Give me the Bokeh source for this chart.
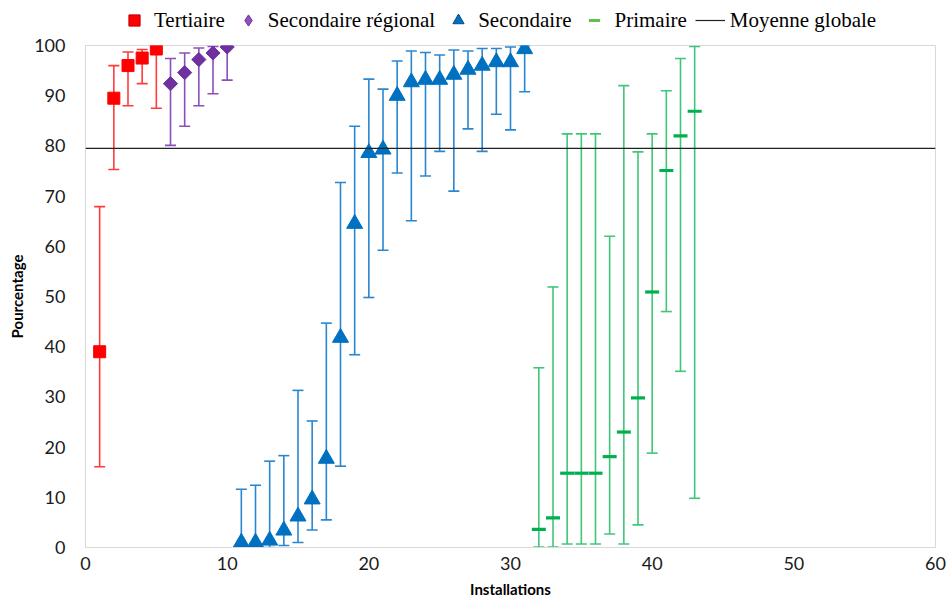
from bokeh.plotting import figure
from bokeh.layouts import column
from bokeh.models import (ColumnDataSource, Whisker, TeeHead, Span, Legend,
                          LegendItem, FixedTicker, Range1d)
from bokeh.embed import file_html
from bokeh.resources import INLINE

# Installation groups: mean percentage with lower / upper bounds
tert_x = [1, 2, 3, 4, 5]
tert_y = [39.0, 89.5, 96.0, 97.5, 99.3]
tert_lo = [16.1, 75.3, 88.0, 92.4, 87.5]
tert_hi = [67.9, 96.0, 98.7, 99.2, 100.0]

reg_x = [6, 7, 8, 9, 10]
reg_y = [92.4, 94.6, 97.2, 98.5, 99.7]
reg_lo = [80.1, 83.9, 88.0, 90.4, 93.1]
reg_hi = [97.4, 98.5, 99.5, 99.8, 100.0]

sec_x = list(range(11, 32))
sec_y = [1.0, 1.0, 1.4, 3.4, 6.2, 9.6, 17.7, 41.8, 64.5, 78.6, 79.3, 90.0,
         92.7, 93.2, 93.2, 94.2, 95.2, 96.0, 96.7, 96.7, 99.3]
sec_lo = [0.0, 0.0, 0.0, 0.4, 1.0, 3.5, 5.5, 16.2, 38.4, 49.8, 59.2, 74.6,
          65.1, 74.0, 78.9, 71.0, 83.4, 78.9, 86.3, 83.2, 90.8]
sec_hi = [11.6, 12.4, 17.2, 18.3, 31.3, 25.2, 44.7, 72.7, 83.9, 93.3, 91.3,
          96.9, 98.9, 98.6, 98.1, 99.1, 98.9, 99.4, 99.4, 99.7, 100.0]

prim_x = list(range(32, 44))
prim_y = [3.6, 5.9, 14.8, 14.8, 14.8, 18.1, 23.0, 29.8, 50.9, 75.1, 82.0, 86.9]
prim_lo = [0.1, 0.1, 0.7, 0.7, 0.7, 2.7, 0.7, 4.5, 18.8, 47.0, 35.1, 9.8]
prim_hi = [35.8, 51.9, 82.4, 82.4, 82.4, 62.0, 92.0, 78.8, 82.4, 91.0, 97.4, 99.8]

global_mean = 79.5

x_ticks = [0, 10, 20, 30, 40, 50, 60]
y_ticks = [0, 10, 20, 30, 40, 50, 60, 70, 80, 90, 100]

TICK_FONT = "Lato"
LEGEND_FONT = "Liberation Serif"

RED, PURPLE, BLUE, GREEN = "#ff0000", "#7030a0", "#0070c0", "#00b050"

# ---------------------------------------------------------------- main chart
p = figure(width=951, height=567, output_backend="svg", toolbar_location=None,
           x_range=Range1d(0, 60), y_range=Range1d(0, 100),
           min_border_left=85, min_border_right=16, min_border_top=11,
           min_border_bottom=54)
p.grid.visible = False
p.outline_line_color = "#d9d9d9"
p.outline_line_width = 1
p.background_fill_color = "white"
p.border_fill_color = "white"

for ax in (p.xaxis[0], p.yaxis[0]):
    ax.axis_line_color = "#d9d9d9"
    ax.major_tick_line_color = None
    ax.minor_tick_line_color = None
    ax.major_tick_out = 0
    ax.major_tick_in = 0
    ax.major_label_text_font = TICK_FONT
    ax.major_label_text_font_size = "18px"
    ax.major_label_text_color = "#1a1a1a"
    ax.axis_label_text_font = TICK_FONT
    ax.axis_label_text_font_size = "15px"
    ax.axis_label_text_font_style = "bold"
    ax.axis_label_text_color = "#000000"

p.xaxis.ticker = FixedTicker(ticks=x_ticks)
p.yaxis.ticker = FixedTicker(ticks=y_ticks)
p.xaxis.axis_label = "Installations"
p.yaxis.axis_label = "Pourcentage"
p.xaxis.major_label_standoff = 9
p.yaxis.major_label_standoff = 20
p.xaxis.axis_label_standoff = 7
p.yaxis.axis_label_standoff = 5


def add_bars(xs, lo, hi, color):
    src = ColumnDataSource(dict(x=xs, lower=lo, upper=hi))
    w = Whisker(source=src, base="x", lower="lower", upper="upper",
                line_color=color, line_width=1.6, level="underlay",
                upper_head=TeeHead(size=11, line_color=color, line_width=1.6),
                lower_head=TeeHead(size=11, line_color=color, line_width=1.6))
    p.add_layout(w)


add_bars(tert_x, tert_lo, tert_hi, "#ff3b3b")
add_bars(reg_x, reg_lo, reg_hi, "#8a4fb8")
add_bars(sec_x, sec_lo, sec_hi, "#2a86cf")
add_bars(prim_x, prim_lo, prim_hi, "#3fc777")

# global mean across all installations
p.add_layout(Span(location=global_mean, dimension="width",
                  line_color="#222222", line_width=1.2))

p.scatter(tert_x, tert_y, marker="square", size=12,
          fill_color=RED, line_color=RED)
p.scatter(reg_x, reg_y, marker="square", size=10, angle=0.785398,
          fill_color=PURPLE, line_color=PURPLE)
p.scatter(sec_x, sec_y, marker="triangle", size=16,
          fill_color=BLUE, line_color=BLUE)
p.scatter(prim_x, prim_y, marker="dash", size=14,
          line_color=GREEN, line_width=3.2)

# ---------------------------------------------------------------- legend strip
lg = figure(width=951, height=34, output_backend="svg", toolbar_location=None,
            x_range=Range1d(-200, -100), y_range=Range1d(-200, -100),
            x_axis_location=None, y_axis_location=None,
            min_border_left=0, min_border_right=0, min_border_top=0,
            min_border_bottom=0)
lg.grid.visible = False
lg.outline_line_color = None
lg.border_fill_color = "white"

l_tert = lg.scatter(tert_x, tert_y, marker="square",
                    fill_color=RED, line_color="#c00000")
l_reg = lg.scatter(reg_x, reg_y, marker="diamond",
                   fill_color="#8e4fbf", line_color=PURPLE)
l_sec = lg.scatter(sec_x, sec_y, marker="triangle",
                   fill_color=BLUE, line_color="#004f8a")
l_prim = lg.scatter(prim_x, prim_y, marker="dash",
                    line_color="#62c048", line_width=3)
l_mean = lg.line(x_ticks, [global_mean] * len(x_ticks),
                 line_color="#222222", line_width=1.2)

legend = Legend(items=[
    LegendItem(label="Tertiaire", renderers=[l_tert]),
    LegendItem(label="Secondaire régional", renderers=[l_reg]),
    LegendItem(label="Secondaire", renderers=[l_sec]),
    LegendItem(label="Primaire", renderers=[l_prim]),
    LegendItem(label="Moyenne globale", renderers=[l_mean]),
], orientation="horizontal", location=(34, 0))
legend.label_text_font = LEGEND_FONT
legend.label_text_font_size = "21px"
legend.label_text_color = "#000000"
legend.glyph_width = 30
legend.glyph_height = 28
legend.label_standoff = 5
legend.spacing = 8
legend.padding = 0
legend.margin = 0
legend.border_line_color = None
legend.background_fill_alpha = 0
lg.add_layout(legend, "center")

layout = column(lg, p, spacing=0)
open("out.html", "w").write(file_html(layout, INLINE))
